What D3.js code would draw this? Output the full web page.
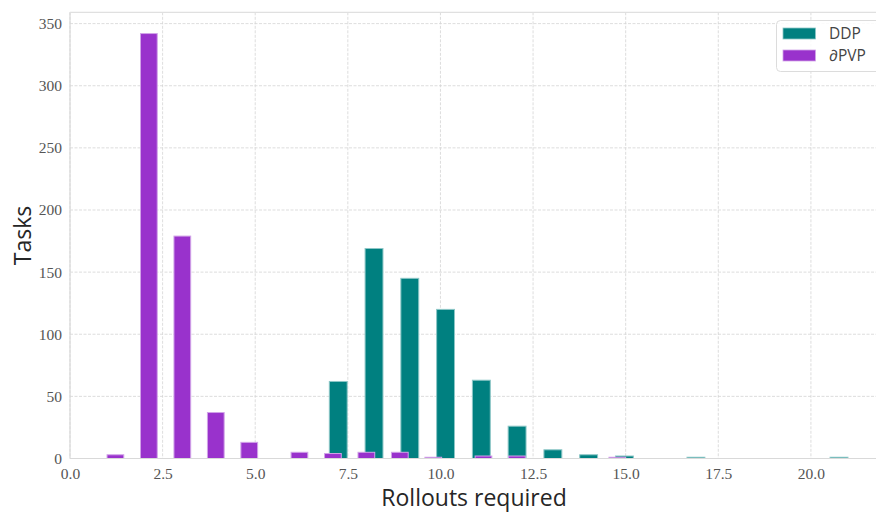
<!DOCTYPE html>
<html>
<head>
<meta charset="utf-8">
<script src="https://cdn.jsdelivr.net/npm/d3@7"></script>
<style>
  html, body { margin: 0; padding: 0; background: #fff; }
  svg { display: block; }
</style>
</head>
<body>
<svg id="chart" width="876" height="514"></svg>
<script>
// ---- Data ----
// Rollouts required (integer values) and number of tasks for each series
const ddpRollouts = [7, 8, 9, 10, 11, 12, 13, 14, 15, 17, 21];
const ddpCounts   = [62, 169, 145, 120, 63, 26, 7, 3, 2, 1, 1];
const pvpRollouts = [1, 2, 3, 4, 5, 6, 7, 8, 9, 10, 11, 12, 15];
const pvpCounts   = [3, 342, 179, 37, 13, 5, 4, 5, 5, 1, 2, 2, 1];
// Histogram binning used for each series: [min, max] and number of bins
const ddpBinRange = [7, 21];
const ddpBinCount = 29;
const pvpBinRange = [1, 15];
const pvpBinCount = 31;
// Axis ticks
const xTicks = [0, 2.5, 5, 7.5, 10, 12.5, 15, 17.5, 20];
const xTickLabels = ["0.0", "2.5", "5.0", "7.5", "10.0", "12.5", "15.0", "17.5", "20.0"];
const yTicks = [0, 50, 100, 150, 200, 250, 300, 350];
const seriesNames = ["DDP", "\u2202PVP"];
const seriesColors = ["#008080", "#9932CC"];

// ---- Layout ----
const svg = d3.select("#chart");
const W = 876, H = 514;
const plot = { left: 70, right: 885, top: 12.3, bottom: 458.5 };

function binBars(rollouts, counts, range, n) {
  const [lo, hi] = range;
  const w = (hi - lo) / n;
  return rollouts.map((r, i) => {
    let idx = Math.floor((r - lo) * n / (hi - lo));
    if (idx >= n) idx = n - 1;
    return { x0: lo + idx * w, x1: lo + (idx + 1) * w, count: counts[i] };
  });
}
const ddpBars = binBars(ddpRollouts, ddpCounts, ddpBinRange, ddpBinCount);
const pvpBars = binBars(pvpRollouts, pvpCounts, pvpBinRange, pvpBinCount);

const yMax = d3.max([...ddpCounts, ...pvpCounts]) * 1.05;
const x = d3.scaleLinear().domain([0, 22]).range([plot.left, plot.right]);
const y = d3.scaleLinear().domain([0, yMax]).range([plot.bottom, plot.top]);

svg.append("rect").attr("width", W).attr("height", H).attr("fill", "#fff");

// grid
const grid = svg.append("g");
grid.selectAll("line.vx").data(xTicks).join("line")
  .attr("x1", d => x(d)).attr("x2", d => x(d))
  .attr("y1", plot.top).attr("y2", plot.bottom)
  .attr("stroke", "#d4d4d4").attr("stroke-width", 0.8)
  .attr("stroke-dasharray", "3,1.5");
grid.selectAll("line.hy").data(yTicks).join("line")
  .attr("x1", plot.left).attr("x2", plot.right)
  .attr("y1", d => y(d)).attr("y2", d => y(d))
  .attr("stroke", "#d4d4d4").attr("stroke-width", 0.8)
  .attr("stroke-dasharray", "3,1.5");

// bars
function drawBars(bars, color) {
  const edge = d3.interpolateRgb(color, "#ffffff")(0.55);
  svg.append("g").selectAll("rect").data(bars).join("rect")
    .attr("x", d => x(d.x0))
    .attr("width", d => x(d.x1) - x(d.x0))
    .attr("y", d => y(d.count))
    .attr("height", d => y(0) - y(d.count))
    .attr("fill", color)
    .attr("stroke", edge)
    .attr("stroke-width", 1);
}
drawBars(ddpBars, seriesColors[0]);
drawBars(pvpBars, seriesColors[1]);

// spines
svg.append("line").attr("x1", plot.left).attr("x2", plot.left)
  .attr("y1", plot.top).attr("y2", plot.bottom)
  .attr("stroke", "#d9d9d9").attr("stroke-width", 1.2);
svg.append("line").attr("x1", plot.left).attr("x2", plot.right)
  .attr("y1", plot.bottom).attr("y2", plot.bottom)
  .attr("stroke", "#d9d9d9").attr("stroke-width", 1.2);
svg.append("line").attr("x1", plot.left).attr("x2", plot.right)
  .attr("y1", plot.top).attr("y2", plot.top)
  .attr("stroke", "#e0e0e0").attr("stroke-width", 1.2);

// axes (text only, matplotlib style ticks hidden)
const tickFont = "'Liberation Serif', 'DejaVu Serif', serif";
const xAxis = d3.axisBottom(x).tickValues(xTicks)
  .tickFormat((d, i) => xTickLabels[i]).tickSize(0).tickPadding(9);
const gx = svg.append("g").attr("transform", `translate(0,${plot.bottom})`).call(xAxis);
gx.select(".domain").remove();
gx.selectAll("text").attr("font-family", tickFont).attr("font-size", 15.5)
  .attr("fill", "#555");

const yAxis = d3.axisLeft(y).tickValues(yTicks).tickSize(0).tickPadding(8);
const gy = svg.append("g").attr("transform", `translate(${plot.left},0)`).call(yAxis);
gy.select(".domain").remove();
gy.selectAll("text").attr("font-family", tickFont).attr("font-size", 15.5)
  .attr("fill", "#555");

// axis labels
const labelFont = "'Open Sans', 'Noto Sans', 'DejaVu Sans', sans-serif";
svg.append("text").attr("x", 474).attr("y", 506)
  .attr("text-anchor", "middle").attr("font-family", labelFont)
  .attr("font-size", 23).attr("fill", "#262626").text("Rollouts required");
svg.append("text").attr("transform", `translate(31,${(plot.top + plot.bottom) / 2}) rotate(-90)`)
  .attr("text-anchor", "middle").attr("font-family", labelFont)
  .attr("font-size", 23).attr("fill", "#262626").text("Tasks");

// legend
const lg = svg.append("g");
lg.append("rect").attr("x", 776.5).attr("y", 20.5).attr("width", 108).attr("height", 51)
  .attr("rx", 4).attr("fill", "#fff").attr("fill-opacity", 0.85)
  .attr("stroke", "#dcdcdc").attr("stroke-width", 1);
seriesNames.forEach((name, i) => {
  const yy = 28 + i * 22;
  lg.append("rect").attr("x", 783).attr("y", yy).attr("width", 32.5).attr("height", 11)
    .attr("fill", seriesColors[i])
    .attr("stroke", d3.interpolateRgb(seriesColors[i], "#ffffff")(0.55))
    .attr("stroke-width", 0.8);
  lg.append("text").attr("x", 829).attr("y", yy + 10.5)
    .attr("font-family", labelFont).attr("font-size", 15.5).attr("fill", "#444")
    .text(name);
});
</script>
</body>
</html>
